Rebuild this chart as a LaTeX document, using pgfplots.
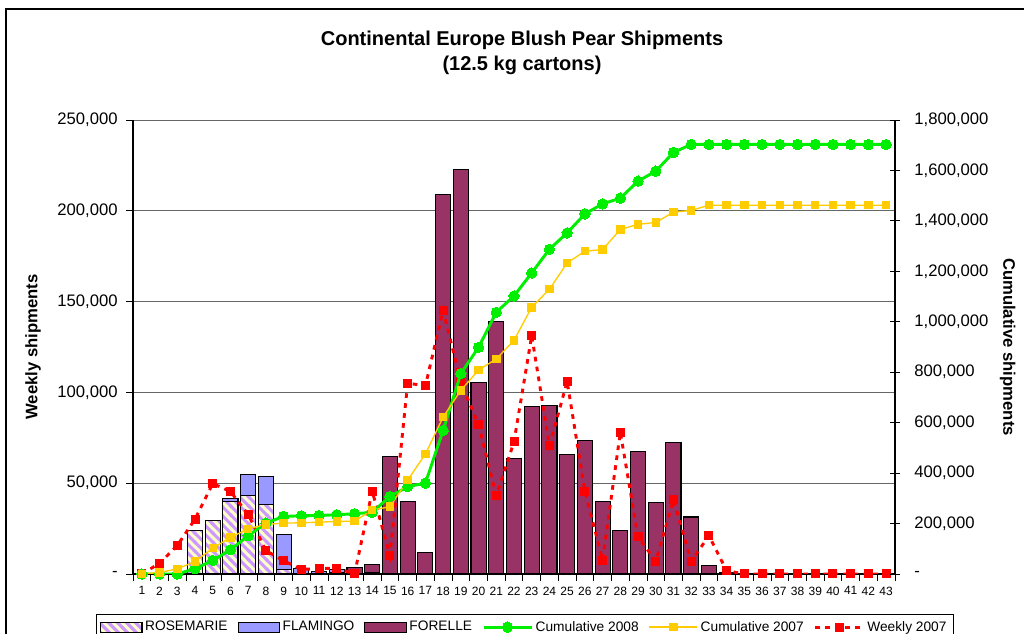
\documentclass[border=0pt]{standalone}
\usepackage{fontspec}
\setmainfont{Liberation Sans}
\usepackage{pgfplots}
\usepackage{pgfplotstable}
\pgfplotsset{compat=1.18}
\usetikzlibrary{patterns}
\definecolor{rosebg}{HTML}{FFFFCC}
\definecolor{rosestr}{HTML}{CC99FF}
\definecolor{flam}{HTML}{9999FF}
\definecolor{forelle}{HTML}{993366}
\definecolor{cum08}{HTML}{00EE00}
\definecolor{cum07}{HTML}{FFCC00}
\definecolor{wk07}{HTML}{FF0000}

\pgfdeclarepatterninherentlycolored{rosestripes}
{\pgfpointorigin}{\pgfpoint{7pt}{7pt}}{\pgfpoint{7pt}{7pt}}
{
\pgfpathrectangle{\pgfpointorigin}{\pgfpoint{7pt}{7pt}}
\pgfusepath{clip}
\pgfsetfillcolor{rosebg}
\pgfpathrectangle{\pgfpointorigin}{\pgfpoint{7pt}{7pt}}
\pgfusepath{fill}
\pgfsetstrokecolor{rosestr}
\pgfsetlinewidth{2.4pt}
\pgfpathmoveto{\pgfpoint{-2pt}{9pt}}\pgfpathlineto{\pgfpoint{9pt}{-2pt}}
\pgfpathmoveto{\pgfpoint{-2pt}{2pt}}\pgfpathlineto{\pgfpoint{2pt}{-2pt}}
\pgfpathmoveto{\pgfpoint{5pt}{9pt}}\pgfpathlineto{\pgfpoint{9pt}{5pt}}
\pgfusepath{stroke}
}

\pgfplotstableread{
week rose flam forelle wk07 cum08 cum07
1 0 0 0 0 0 0
2 0 0 0 5900 0 5900
3 0 0 0 15700 0 20000
4 24000 0 0 30200 21000 49600
5 29300 0 0 49800 53600 102400
6 40100 1600 0 45400 96000 144800
7 43200 11800 0 32800 151600 179300
8 38100 15800 0 12900 201600 196400
9 2300 19600 0 7300 228200 201600
10 500 2500 0 2500 230900 203000
11 0 1400 0 3000 232100 205500
12 1000 1500 0 3200 234900 208300
13 0 0 3700 0 238900 209500
14 1000 0 4100 45600 244500 253200
15 0 0 64700 10200 307500 267000
16 0 0 39800 105100 346000 372200
17 0 0 11700 103600 360300 475400
18 0 0 209200 145300 569400 622200
19 0 0 222900 105600 794400 728100
20 0 0 105600 82200 898800 808700
21 0 0 139200 43100 1037700 852300
22 0 0 63400 72800 1102300 926500
23 0 0 92200 131300 1193600 1057500
24 0 0 92800 70600 1287700 1128900
25 0 0 65600 106000 1352300 1233300
26 0 0 73700 45600 1427700 1279700
27 0 0 40100 7700 1467400 1286400
28 0 0 23900 78100 1490000 1365800
29 0 0 67700 20500 1557500 1386500
30 0 0 39500 7000 1597000 1393600
31 0 0 72300 40900 1671400 1434500
32 0 0 31400 7000 1703000 1441300
33 0 0 4600 21100 1703000 1462300
34 0 0 700 1800 1703000 1462300
35 0 0 0 0 1703000 1462300
36 0 0 0 0 1703000 1462300
37 0 0 0 0 1703000 1462300
38 0 0 0 0 1703000 1462300
39 0 0 0 0 1703000 1462300
40 0 0 0 0 1703000 1462300
41 0 0 0 0 1703000 1462300
42 0 0 0 0 1703000 1462300
43 0 0 0 0 1703000 1462300
}\data

\pgfplotsset{
  common/.style={width=571.5pt,height=340.5pt,scale only axis,
    xmin=0.5,xmax=43.5,at={(99.75pt,45pt)},anchor=south west},
  barleg/.style={legend image code/.code={\draw[##1] (0pt,-3.75pt) rectangle (31pt,3.75pt);}},
  lineleg/.style={legend image code/.code={\draw[##1,mark repeat=2,mark phase=2] plot coordinates {(0pt,0pt) (18pt,0pt) (36pt,0pt)};}},
  rosestyle/.style={pattern=rosestripes,draw=black,line width=0.8pt},
  flamstyle/.style={fill=flam,draw=black,line width=0.8pt},
  forstyle/.style={fill=forelle,draw=black,line width=0.8pt},
  c08style/.style={draw=cum08,line width=2.2pt,mark=*,mark size=3.9pt,mark options={fill=cum08,draw=cum08,line width=0pt}},
  c07style/.style={draw=cum07,line width=1pt,mark=square*,mark size=2.8pt,mark options={fill=cum07,draw=cum07,line width=0pt}},
  w07style/.style={draw=wk07,line width=2.2pt,dash pattern=on 3.5pt off 4pt,mark=square*,mark size=3pt,mark options={solid,fill=wk07,draw=wk07,line width=0pt}},
}

\begin{document}
\begin{tikzpicture}
\useasboundingbox (0,0) rectangle (768pt,475.5pt);
\clip (0,0) rectangle (768pt,475.5pt);
\fill[white] (0,0) rectangle (768pt,475.5pt);
\draw[black,line width=1pt] (4.5pt,-20pt) rectangle (800pt,468.75pt);

\begin{axis}[common, ybar stacked, bar width=0.85,
  ymin=0, ymax=250000, scaled y ticks=false,
  axis x line*=bottom, axis y line*=left, axis line style={-,black,line width=0.8pt},
  ytick={0,50000,100000,150000,200000,250000},
  yticklabels={{-},{50,000},{100,000},{150,000},{200,000},{250,000}},
  yticklabel style={font=\fontsize{12.5}{14}\selectfont,xshift=-3pt},
  ymajorgrids, grid style={black!60,line width=0.6pt},
  xtick={0.5,1.5,...,42.5},
  xticklabel={\pgfmathtruncatemacro\wk{\tick+0.5}\wk},
  xticklabel style={font=\fontsize{9}{10}\selectfont,xshift=6.645pt,yshift=-1pt},
  extra x ticks={43.5}, extra x tick labels={},
  tick align=outside, tick style={black,line width=0.6pt},
  major tick length=5pt,
  ylabel={Weekly shipments},
  every axis y label/.style={at={(axis description cs:-0.131,0.5)},rotate=90,anchor=center,font=\bfseries\fontsize{12.5}{14}\selectfont},
]
\addplot[rosestyle] table[x=week,y=rose]{\data};
\addplot[flamstyle] table[x=week,y=flam]{\data};
\addplot[forstyle] table[x=week,y=forelle]{\data};
\end{axis}

\begin{axis}[common, hide axis, ymin=0, ymax=250000]
\addplot[w07style] table[x=week,y=wk07]{\data};
\end{axis}

\begin{axis}[common, ymin=0, ymax=1800000, scaled y ticks=false,
  axis y line*=right, axis x line=none, axis line style={-,black,line width=0.8pt},
  ytick={0,200000,400000,600000,800000,1000000,1200000,1400000,1600000,1800000},
  yticklabels={{-},{200,000},{400,000},{600,000},{800,000},{1,000,000},{1,200,000},{1,400,000},{1,600,000},{1,800,000}},
  yticklabel style={font=\fontsize{12.5}{14}\selectfont,xshift=7pt},
  tick align=center, major tick length=8pt, tick style={black,line width=0.6pt},
  ylabel={Cumulative shipments},
  every axis y label/.style={at={(axis description cs:1.148,0.5)},rotate=-90,anchor=center,font=\bfseries\fontsize{12.5}{14}\selectfont},
  legend style={at={(0.514,-0.088)},anchor=north,legend columns=6,draw=black,line width=0.8pt,
    font=\fontsize{10.3}{12}\selectfont,inner sep=3pt,
    /tikz/every even column/.append style={column sep=5.5pt}},
  legend cell align=left,
]
\addlegendimage{barleg,rosestyle}
\addlegendimage{barleg,flamstyle}
\addlegendimage{barleg,forstyle}
\addplot[c08style,lineleg] table[x=week,y=cum08]{\data};
\addplot[c07style,lineleg] table[x=week,y=cum07]{\data};
\addlegendimage{lineleg,w07style}
\legend{ROSEMARIE,FLAMINGO,FORELLE,Cumulative 2008,Cumulative 2007,Weekly 2007}
\end{axis}

\node[align=center,font=\bfseries\fontsize{15}{18.75}\selectfont] at (391.5pt,436.1pt) {Continental Europe Blush Pear Shipments\\(12.5 kg cartons)};
\end{tikzpicture}
\end{document}
